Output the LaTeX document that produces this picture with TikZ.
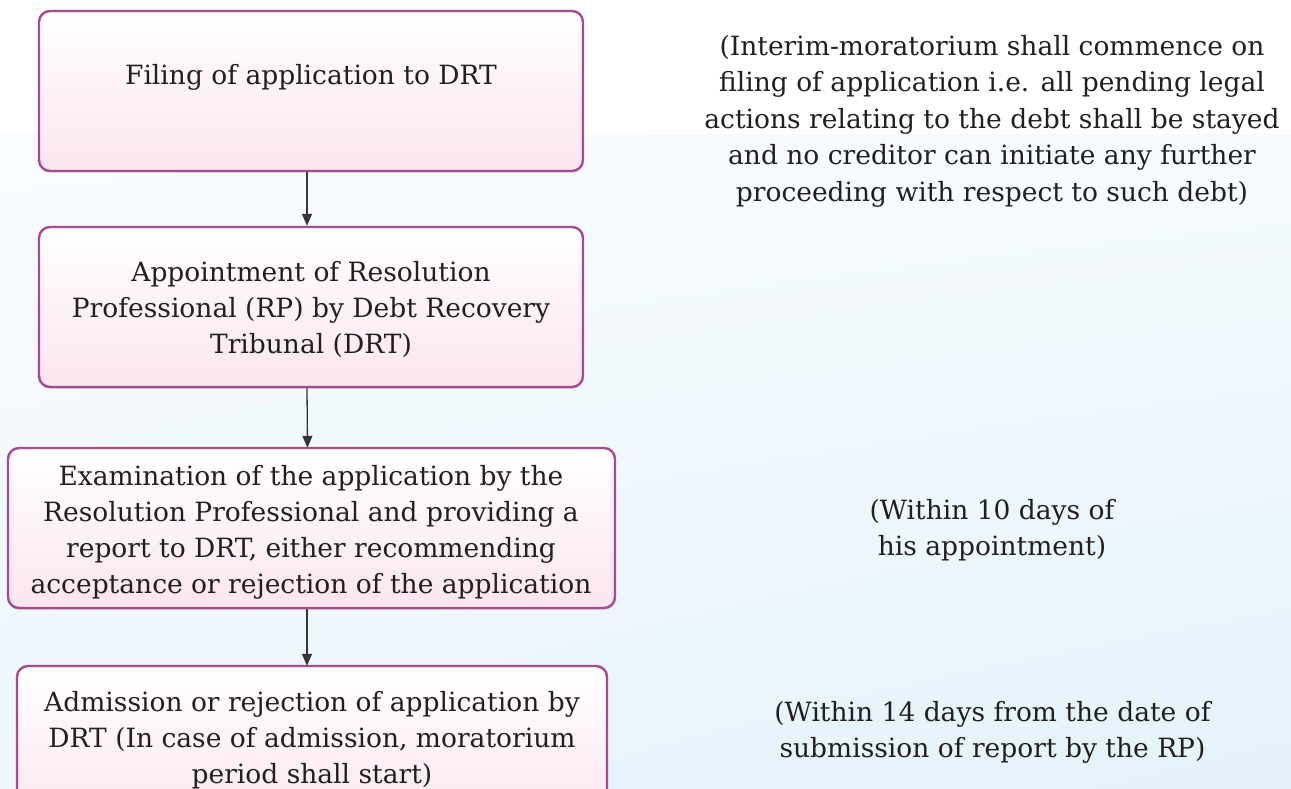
\documentclass[tikz,border=0pt]{standalone}
\usepackage{fontspec}
\setmainfont{DejaVu Serif}
\usetikzlibrary{arrows.meta,shadows,shadings}
\definecolor{boxline}{RGB}{168,74,140}
\definecolor{boxbottom}{RGB}{251,229,239}
\definecolor{ink}{RGB}{35,31,32}
\definecolor{bgul}{RGB}{249,252,254}
\definecolor{bgur}{RGB}{246,251,254}
\definecolor{bgll}{RGB}{236,246,252}
\definecolor{bglr}{RGB}{227,242,250}
\begin{document}
\begin{tikzpicture}[x=1pt,y=-1pt,
  stepbox/.style={draw=boxline, line width=2.4pt, rounded corners=11pt,
    top color=white, bottom color=boxbottom, minimum height=160pt,
    drop shadow={shadow xshift=0pt, shadow yshift=-1.5pt, opacity=0.35, fill=black!60}},
  steptext/.style={align=center, text=ink, font=\fontsize{26.5}{36}\selectfont, inner sep=0pt},
  note/.style={align=center, text=ink, font=\fontsize{26.5}{36.5}\selectfont, inner sep=0pt},
  flow/.style={draw=ink!90, line width=1.3pt, -{Triangle[length=12pt,width=10pt]}}]
  % page and background
  \clip (0,0) rectangle (1291,789);
  \fill[white] (0,0) rectangle (1291,136);
  \shade[upper left=bgul, upper right=bgur, lower left=bgll, lower right=bglr]
    (0,135) rectangle (1291,789);
  % boxes
  \node[stepbox, minimum width=544pt] (b1) at (311,91) {};
  \node[stepbox, minimum width=544pt] (b2) at (311,307) {};
  \node[stepbox, minimum width=607pt] (b3) at (311.5,528) {};
  \node[stepbox, minimum width=590pt] (b4) at (312,746) {};
  % box texts
  \node[steptext] (t1) at (311,77) {Filing of application to DRT};
  \node[steptext] (t2) at (311,309.5) {Appointment of Resolution\\Professional (RP) by Debt Recovery\\Tribunal (DRT)};
  \node[steptext] (t3) at (311,532) {Examination of the application by the\\Resolution Professional and providing a\\report to DRT, either recommending\\acceptance or rejection of the application};
  \node[steptext] (t4) at (312,740) {Admission or rejection of application by\\DRT (In case of admission, moratorium\\period shall start)};
  % connectors
  \draw[flow] ([xshift=-4pt]b1.south) -- ([xshift=-4pt]b2.north);
  \draw[flow] ([xshift=-4pt]b2.south) -- ([xshift=-4pt,yshift=-1pt]b3.north);
  \draw[flow] ([xshift=-4.5pt]b3.south) -- ([xshift=-5pt,yshift=-1pt]b4.north);
  % timing notes
  \node[note] (n1) at (992,121) {(Interim-moratorium shall commence on\\filing of application i.e. all pending legal\\actions relating to the debt shall be stayed\\and no creditor can initiate any further\\proceeding with respect to such debt)};
  \node[note] (n2) at (992,530) {(Within 10 days of\\his appointment)};
  \node[note] (n3) at (992.5,732.5) {(Within 14 days from the date of\\submission of report by the RP)};
\end{tikzpicture}
\end{document}
